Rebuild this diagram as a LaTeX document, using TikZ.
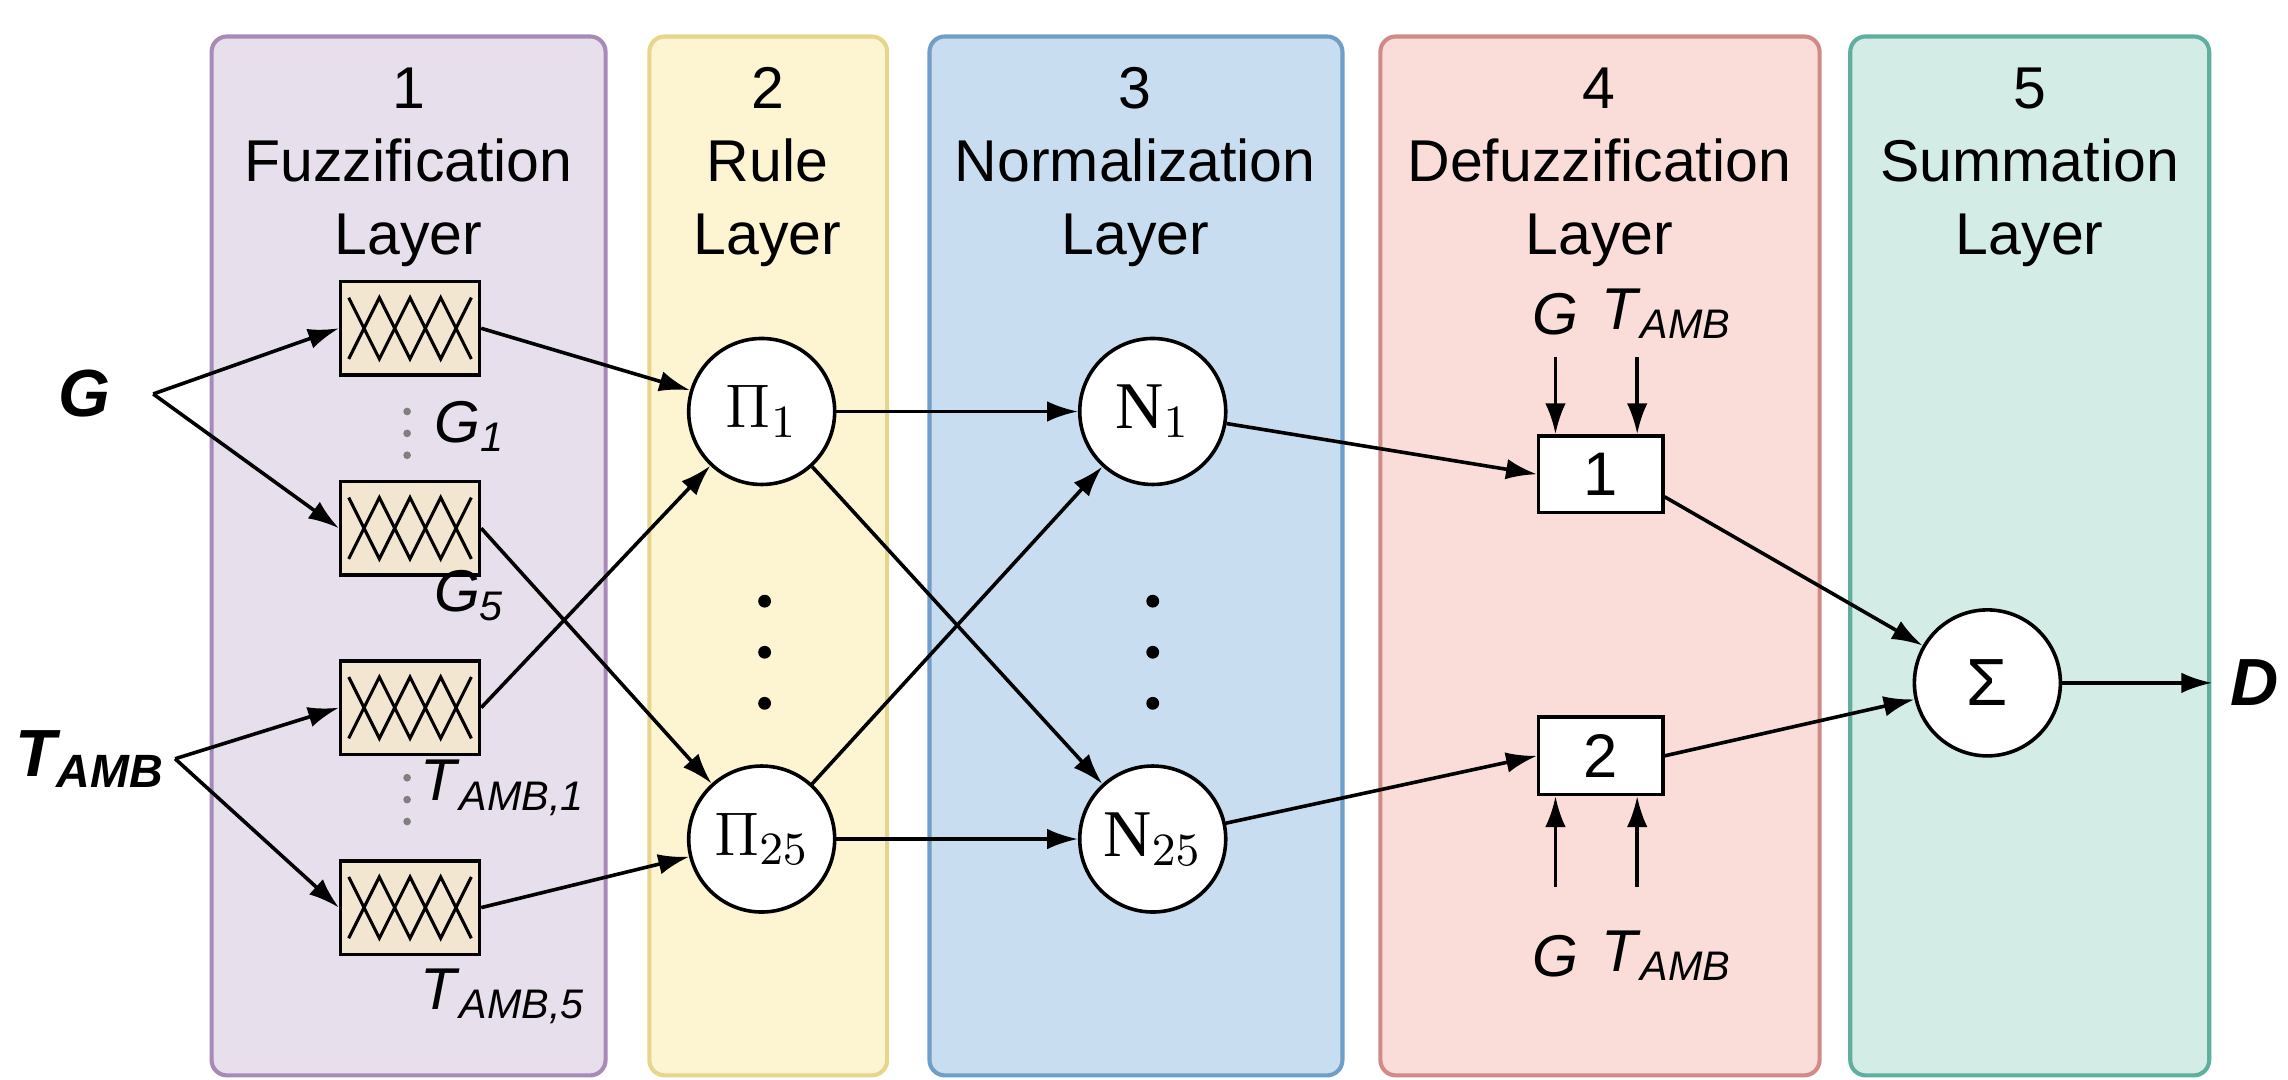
\documentclass[tikz,border=0pt]{standalone}
\usepackage{fontspec}
\setmainfont{Liberation Sans}
\newfontfamily\serif{Liberation Serif}
\usetikzlibrary{arrows.meta}
\definecolor{pA}{HTML}{E8DFEC}\definecolor{pAb}{HTML}{A68AB8}
\definecolor{pB}{HTML}{FDF4D2}\definecolor{pBb}{HTML}{E6D68C}
\definecolor{pC}{HTML}{C9DDF0}\definecolor{pCb}{HTML}{6F9FC8}
\definecolor{pD}{HTML}{FADDD8}\definecolor{pDb}{HTML}{D08A88}
\definecolor{pE}{HTML}{D3ECE5}\definecolor{pEb}{HTML}{5FAE9E}
\definecolor{fz}{HTML}{F3E6D0}
\newcommand{\isub}[2]{\textit{#1}\textsubscript{\textit{#2}}}
\begin{document}
\begin{tikzpicture}[x=0.01cm,y=-0.01cm,
 panel/.style={rounded corners=3pt,line width=0.8pt},
 head/.style={align=center,font=\fontsize{11.5}{14.2}\selectfont,anchor=north},
 fuzz/.style={draw,fill=fz,line width=0.7pt,minimum width=0.95cm,minimum height=0.64cm,inner sep=0pt,
   path picture={\draw[line width=0.6pt,shift={(path picture bounding box.center)},x=1cm,y=1cm]
     (-0.42,0.21)--(-0.21,-0.21)--(0,0.21)--(0.21,-0.21)--(0.42,0.21)
     (-0.42,-0.21)--(-0.21,0.21)--(0,-0.21)--(0.21,0.21)--(0.42,-0.21);}},
 neu/.style={draw,circle,fill=white,line width=0.7pt,minimum size=1.0cm,inner sep=0pt,font=\fontsize{13}{13}\selectfont},
 dbox/.style={draw,fill=white,line width=0.7pt,minimum width=0.85cm,minimum height=0.48cm,font=\fontsize{12}{12}\selectfont},
 lab/.style={font=\fontsize{11.5}{12}\selectfont},
 arr/.style={-{Latex[length=6pt,width=4pt]},line width=0.7pt},
 dot/.style={circle,fill=black,inner sep=0pt,minimum size=2.5pt}]
\useasboundingbox (0,0) rectangle (1568,740);
\fill[white] (0,0) rectangle (1568,740);
\draw[panel,fill=pA,draw=pAb] (145,25) rectangle (415,737);
\draw[panel,fill=pB,draw=pBb] (445,25) rectangle (608,737);
\draw[panel,fill=pC,draw=pCb] (637,25) rectangle (920,737);
\draw[panel,fill=pD,draw=pDb] (946,25) rectangle (1247,737);
\draw[panel,fill=pE,draw=pEb] (1268,25) rectangle (1514,737);
\node[head] (h1) at (280,34) {1\\Fuzzification\\Layer};
\node[head] (h2) at (526,34) {2\\Rule\\Layer};
\node[head] (h3) at (778,34) {3\\Normalization\\Layer};
\node[head] (h4) at (1096,34) {4\\Defuzzification\\Layer};
\node[head] (h5) at (1391,34) {5\\Summation\\Layer};
% inputs
\node[font=\fontsize{13}{13}\selectfont\bfseries\itshape] (G) at (58,270) {G};
\node[font=\fontsize{13}{13}\selectfont\bfseries\itshape] (T) at (62,520) {T\textsubscript{AMB}};
\coordinate (gs) at (105,270);
\coordinate (ts) at (120,520);
% fuzzy boxes
\node[fuzz] (f1) at (281,225) {};
\node[fuzz] (f2) at (281,362) {};
\node[fuzz] (f3) at (281,485) {};
\node[fuzz] (f4) at (281,622) {};
\node[lab] (g1) at (322,292) {\isub{G}{1}};
\node[lab] (g5) at (322,408) {\isub{G}{5}};
\node[lab] (t1) at (345,540) {\isub{T}{AMB,1}};
\node[lab] (t5) at (345,683) {\isub{T}{AMB,5}};
\foreach \y in {282,297,312}{\node[dot,minimum size=1.5pt,fill=gray] at (279,\y) {};}
\foreach \y in {533,548,563}{\node[dot,minimum size=1.5pt,fill=gray] at (279,\y) {};}
\draw[arr] (gs) -- (f1.west);
\draw[arr] (gs) -- (f2.west);
\draw[arr] (ts) -- (f3.west);
\draw[arr] (ts) -- (f4.west);
% rule
\node[neu] (p1) at (522,282) {$\Pi_1$};
\node[neu] (p25) at (522,575) {$\Pi_{25}$};
\foreach \y in {412,447,482}{\node[dot] at (524,\y) {};}
% norm
\node[neu] (n1) at (790,282) {{\serif N}$_1$};
\node[neu] (n25) at (790,575) {{\serif N}$_{25}$};
\foreach \y in {412,447,482}{\node[dot] at (790,\y) {};}
% defuzz
\node[dbox] (d1) at (1097,325) {1};
\node[dbox] (d2) at (1097,518) {2};
\node[lab] (tg) at (1066,215) {\textit{G}};
\node[lab,anchor=west] (tt) at (1085,215) {\isub{T}{AMB}};
\node[lab] (bg) at (1066,655) {\textit{G}};
\node[lab,anchor=west] (bt) at (1085,655) {\isub{T}{AMB}};
\coordinate (a1) at (1066,245); \coordinate (a2) at (1122,245);
\coordinate (b1) at (1066,608); \coordinate (b2) at (1122,608);
\draw[arr] (a1) -- (a1|-d1.north);
\draw[arr] (a2) -- (a2|-d1.north);
\draw[arr] (b1) -- (b1|-d2.south);
\draw[arr] (b2) -- (b2|-d2.south);
% sum
\node[neu] (s) at (1362,468) {Σ};
\node[font=\fontsize{13}{13}\selectfont\bfseries\itshape] (D) at (1545,468) {D};
% connections
\draw[arr] (f1.east) -- (p1);
\draw[arr] (f3.east) -- (p1);
\draw[arr] (f2.east) -- (p25);
\draw[arr] (f4.east) -- (p25);
\draw[arr] (p1) -- (n1);
\draw[arr] (p1) -- (n25);
\draw[arr] (p25) -- (n1);
\draw[arr] (p25) -- (n25);
\draw[arr] (n1) -- (d1.west);
\draw[arr] (n25) -- (d2.west);
\draw[arr] (d1.south east) ++(0,-12) -- (s);
\draw[arr] (d2.east) -- (s);
\draw[arr] (s) -- (D);
\end{tikzpicture}
\end{document}
